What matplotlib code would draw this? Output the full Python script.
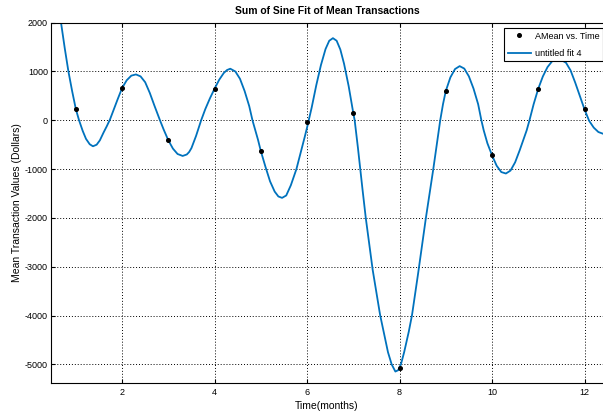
import matplotlib
matplotlib.use("Agg")
import matplotlib.pyplot as plt

plt.rcParams['font.family'] = ['Liberation Sans', 'DejaVu Sans']
plt.rcParams['axes.unicode_minus'] = False

# data points (monthly means)
months = [1, 2, 3, 4, 5, 6, 7, 8, 9, 10, 11, 12]
amean = [231, 660, -409, 648, -628, -41, 150, -5071, 599, -716, 648, 225]

# fitted curve
fit_x = [0.60, 0.68, 0.76, 0.84, 0.92, 1.00, 1.07, 1.15, 1.22, 1.30, 1.37, 1.45, 1.52, 1.60, 1.67,
         1.74, 1.80, 1.90, 2.00, 2.10, 2.20, 2.30, 2.40, 2.50, 2.60, 2.70, 2.82, 2.90, 3.00, 3.10,
         3.20, 3.31, 3.40, 3.45, 3.50, 3.60, 3.71, 3.80, 3.90, 4.00, 4.10, 4.20, 4.27, 4.34, 4.45,
         4.55, 4.65, 4.75, 4.82, 4.88, 4.94, 5.00, 5.10, 5.20, 5.30, 5.38, 5.46, 5.55, 5.65, 5.77,
         5.88, 5.95, 6.00, 6.10, 6.20, 6.30, 6.40, 6.48, 6.56, 6.64, 6.72, 6.80, 6.90, 7.00, 7.03,
         7.10, 7.15, 7.20, 7.27, 7.35, 7.42, 7.50, 7.58, 7.65, 7.75, 7.83, 7.91, 7.97, 8.03, 8.10,
         8.20, 8.27, 8.40, 8.50, 8.57, 8.65, 8.73, 8.80, 8.88, 8.94, 9.00, 9.10, 9.20, 9.30, 9.40,
         9.50, 9.60, 9.70, 9.77, 9.82, 9.90, 10.00, 10.10, 10.20, 10.30, 10.40, 10.50, 10.60, 10.70,
         10.75, 10.81, 10.90, 11.00, 11.10, 11.20, 11.30, 11.45, 11.60, 11.70, 11.80, 11.90, 12.00,
         12.10, 12.20, 12.30, 12.40]
fit_y = [2550, 2000, 1480, 1000, 600, 231, 0, -220, -380, -490, -532, -500, -410, -250, -120,
         20, 170, 420, 660, 820, 915, 940, 900, 780, 560, 300, 0, -190, -409, -580,
         -690, -730, -700, -650, -570, -320, 0, 230, 450, 648, 830, 970, 1030, 1057, 1000,
         850, 600, 290, 0, -204, -400, -628, -950, -1250, -1460, -1560, -1589, -1540, -1330, -1000,
         -600, -340, -150, 260, 720, 1130, 1460, 1630, 1683, 1630, 1450, 1160, 700, 150, 0,
         -560, -1000, -1420, -2000, -2570, -3067, -3530, -3988, -4300, -4750, -5000, -5147, -5120, -5000, -4750,
         -4330, -3990, -3150, -2480, -2000, -1500, -1000, -530, 0, 330, 599, 880, 1050, 1110, 1060,
         900, 650, 330, 0, -204, -470, -716, -930, -1060, -1090, -1030, -860, -610, -340,
         -204, 0, 330, 648, 900, 1090, 1210, 1260, 1180, 1020, 770, 500, 225,
         -10, -150, -240, -275]

xticks = [2, 4, 6, 8, 10, 12]
yticks = [-5000, -4000, -3000, -2000, -1000, 0, 1000, 2000]

fig = plt.figure(figsize=(6.03, 4.17), dpi=100)
ax = fig.add_axes([0.0841, 0.0822, 0.9159, 0.8634])

ax.plot(months, amean, 'o', color='k', ms=2.6, label='AMean vs. Time', zorder=3)
ax.plot(fit_x, fit_y, color='#0072BD', lw=1.3, label='untitled fit 4', zorder=2)

ax.set_xlim(0.457, 12.40)
ax.set_ylim(-5376, 2000)
ax.set_xticks(xticks)
ax.set_yticks(yticks)
ax.tick_params(direction='in', top=True, right=False, length=3, labelsize=6.5, pad=2)
ax.tick_params(axis='x', pad=4)
ax.spines['right'].set_visible(False)
ax.grid(True, color='k', linestyle=(0, (1, 2)), linewidth=0.7)

ax.set_title('Sum of Sine Fit of Mean Transactions', fontsize=7.5, fontweight='bold', pad=6)
ax.set_xlabel('Time(months)', fontsize=7.5, labelpad=3)
ax.set_ylabel('Mean Transaction Values (Dollars)', fontsize=7.5, labelpad=2)

leg = ax.legend(loc='upper left', bbox_to_anchor=(0.8207, 0.9853), borderaxespad=0,
                fontsize=6.5, fancybox=False, framealpha=1, edgecolor='k',
                handlelength=2.6, handletextpad=0.4, labelspacing=0.9)
leg.get_frame().set_linewidth(0.8)

fig.savefig('out.png', dpi=100)
